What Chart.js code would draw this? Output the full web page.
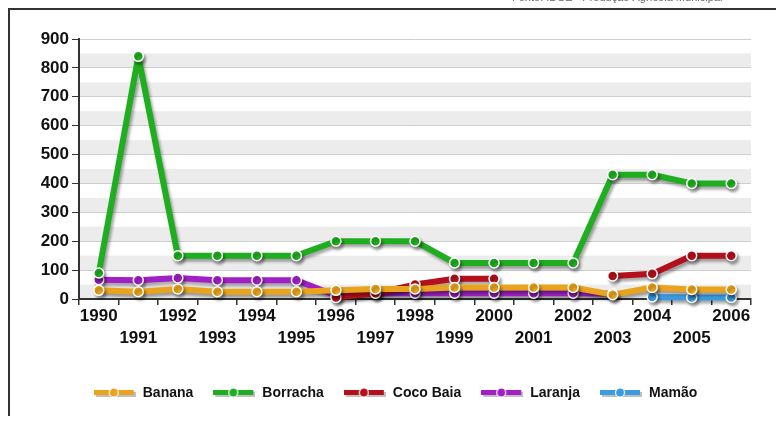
<!DOCTYPE html>
<html>
<head>
<meta charset="utf-8">
<script src="https://cdn.jsdelivr.net/npm/chart.js@4/dist/chart.umd.min.js"></script>
<style>
  html, body { margin: 0; padding: 0; background: #fff; }
  #wrap { width: 776px; height: 421px; }
</style>
</head>
<body>
<div id="wrap"><canvas id="prodChart" width="776" height="421"></canvas></div>
<script>
// dados
const anos = ['1990','1991','1992','1993','1994','1995','1996','1997','1998','1999','2000','2001','2002','2003','2004','2005','2006'];
const banana   = [30, 25, 35, 25, 25, 25, 30, 35, 35, 40, 40, 40, 40, 15, 40, 33, 33];
const borracha = [90, 840, 150, 150, 150, 150, 200, 200, 200, 125, 125, 125, 125, 430, 430, 400, 400];
const cocoBaia = [null, null, null, null, null, null, 5, 20, 50, 70, 70, null, null, 80, 87, 150, 150];
const laranja  = [67, 65, 73, 65, 65, 65, 12, 20, 20, 20, 20, 20, 20, 18, null, null, null];
const mamao    = [null, null, null, null, null, null, null, null, null, null, null, null, null, null, 7, 5, 5];
const yTicks = [0, 100, 200, 300, 400, 500, 600, 700, 800, 900];

const cores = {
    banana: '#e9a31c',
    borracha: '#1fae1f',
    coco: '#b3101c',
    laranja: '#a11fc6',
    mamao: '#3b9be0'
};

// simbolo da legenda: linha grossa com bolinha
function simbolo(cor) {
    const c = document.createElement('canvas');
    c.width = 42; c.height = 12;
    const g = c.getContext('2d');
    g.fillStyle = 'rgba(0,0,0,0.25)';
    g.fillRect(2, 5, 40, 5);
    g.fillStyle = cor;
    g.fillRect(0, 3, 40, 5);
    g.beginPath();
    g.arc(20, 5.5, 4.5, 0, Math.PI * 2);
    g.fillStyle = cor;
    g.fill();
    g.lineWidth = 1.2;
    g.strokeStyle = '#fff';
    g.stroke();
    return c;
}

function serie(label, data, cor) {
    return {
        label: label,
        data: data,
        borderColor: cor,
        backgroundColor: cor,
        pointBackgroundColor: cor,
        pointBorderColor: '#fff',
        pointBorderWidth: 1.5,
        pointRadius: 5,
        borderWidth: 6,
        borderJoinStyle: 'round',
        tension: 0,
        spanGaps: false,
        clip: false,
        legendImg: simbolo(cor)
    };
}

// faixas cinzas alternadas + moldura + fonte
const fundoPlugin = {
    id: 'fundo',
    afterLayout(chart) {
        // legenda um pouco deslocada para a direita, como no original
        chart.legend.left += 20;
        chart.legend.right += 20;
    },
    beforeDraw(chart) {
        const ctx = chart.ctx;
        const a = chart.chartArea;
        const y = chart.scales.y;
        ctx.save();
        ctx.fillStyle = '#fff';
        ctx.fillRect(0, 0, chart.width, chart.height);
        ctx.fillStyle = '#ececec';
        for (let v = 0; v < 900; v += 100) {
            const top = y.getPixelForValue(v + 50);
            const bot = y.getPixelForValue(v);
            ctx.fillRect(a.left, top, a.right - a.left, bot - top);
        }
        // moldura
        ctx.strokeStyle = '#333';
        ctx.lineWidth = 2;
        ctx.beginPath();
        ctx.moveTo(9, 416);
        ctx.lineTo(9, 9);
        ctx.lineTo(776, 9);
        ctx.stroke();
        ctx.fillStyle = '#666';
        ctx.font = '11px Arial, "Liberation Sans"';
        ctx.textAlign = 'left';
        ctx.textBaseline = 'alphabetic';
        ctx.fillText('Fonte: IBGE - Produção Agrícola Municipal', 512, 1);
        ctx.restore();
    }
};

const sombraPlugin = {
    id: 'sombra',
    beforeDatasetsDraw(chart) {
        const ctx = chart.ctx;
        ctx.save();
        ctx.shadowColor = 'rgba(0,0,0,0.35)';
        ctx.shadowOffsetX = 2;
        ctx.shadowOffsetY = 3;
        ctx.shadowBlur = 3;
    },
    afterDatasetsDraw(chart) {
        chart.ctx.restore();
    }
};

const fonte = 'Arial, "Liberation Sans"';

const ctx = document.getElementById('prodChart').getContext('2d');
const chart = new Chart(ctx, {
    type: 'line',
    data: {
        labels: anos,
        datasets: [
            serie('Banana', banana, cores.banana),
            serie('Borracha', borracha, cores.borracha),
            serie('Coco Baia', cocoBaia, cores.coco),
            serie('Laranja', laranja, cores.laranja),
            serie('Mamão', mamao, cores.mamao)
        ]
    },
    options: {
        responsive: false,
        animation: false,
        layout: { padding: { top: 39, right: 25, left: 0, bottom: 11 } },
        scales: {
            x: {
                offset: true,
                grid: {
                    offset: true,
                    drawOnChartArea: false,
                    tickLength: 6,
                    tickColor: '#333',
                    lineWidth: 1.5
                },
                border: { color: '#333', width: 2 },
                ticks: {
                    autoSkip: false,
                    maxRotation: 0,
                    padding: 1,
                    color: '#111',
                    font: { family: fonte, size: 17, weight: 'bold', lineHeight: 1.25 },
                    callback: function (val, i) {
                        const t = this.getLabelForValue(val);
                        return i % 2 === 0 ? t : ['', t];
                    }
                },
                afterFit(scale) { scale.height = 67; }
            },
            y: {
                min: 0,
                max: 900,
                afterBuildTicks(scale) {
                    const t = [];
                    for (let v = 0; v <= 900; v += 50) t.push({ value: v });
                    scale.ticks = t;
                },
                grid: {
                    color: '#cfcfcf',
                    lineWidth: 1,
                    tickLength: 7,
                    tickColor: (c) => (c.tick && yTicks.includes(c.tick.value)) ? '#333' : 'rgba(0,0,0,0)'
                },
                border: { color: '#333', width: 2 },
                ticks: {
                    padding: 3,
                    color: '#111',
                    font: { family: fonte, size: 17, weight: 'bold' },
                    callback: (v) => yTicks.includes(v) ? String(v) : ''
                },
                afterFit(scale) { scale.width = 79; }
            }
        },
        plugins: {
            legend: {
                position: 'bottom',
                labels: {
                    usePointStyle: true,
                    pointStyleWidth: 42,
                    padding: 20,
                    color: '#111',
                    font: { family: fonte, size: 14, weight: 'bold' },
                    generateLabels(chart) {
                        const items = Chart.defaults.plugins.legend.labels.generateLabels(chart);
                        items.forEach((it, i) => {
                            it.pointStyle = chart.data.datasets[i].legendImg;
                        });
                        return items;
                    }
                }
            },
            tooltip: { enabled: false }
        }
    },
    plugins: [fundoPlugin, sombraPlugin]
});
</script>
</body>
</html>
